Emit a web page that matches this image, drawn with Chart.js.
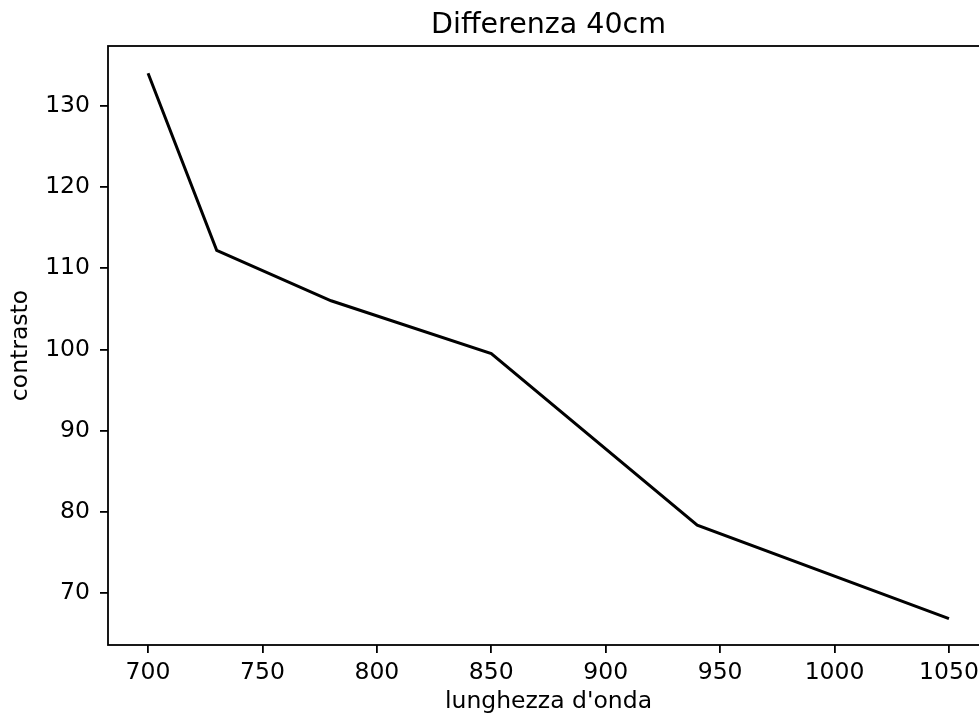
<!DOCTYPE html>
<html>
<head>
<meta charset="utf-8">
<script src="https://cdn.jsdelivr.net/npm/chart.js@4/dist/chart.umd.min.js"></script>
<style>
  html, body { margin: 0; padding: 0; background: #fff; }
  #wrap { width: 979px; height: 718px; overflow: hidden; }
</style>
</head>
<body>
<div id="wrap"><canvas id="c" width="1097" height="718"></canvas></div>
<script>
// wavelength (x) and contrast (y)
const wavelengths = [700, 730, 780, 850, 940, 1050];
const contrast = [134, 112.2, 106, 99.5, 78.4, 66.9];

const titleText = 'Differenza 40cm';
const xLabel = "lunghezza d'onda";
const yLabel = 'contrasto';

const font = 'DejaVu Sans';

// matplotlib-like frame round the plot area
const framePlugin = {
  id: 'frame',
  afterDraw(chart) {
    const { ctx, chartArea: a } = chart;
    ctx.save();
    ctx.strokeStyle = '#000';
    ctx.lineWidth = 1.8;
    ctx.strokeRect(a.left, a.top, a.right - a.left, a.bottom - a.top);
    ctx.restore();
  }
};

new Chart(document.getElementById('c'), {
  type: 'scatter',
  data: {
    datasets: [{
      data: wavelengths.map((x, i) => ({ x: x, y: contrast[i] })),
      showLine: true,
      borderColor: '#000',
      borderWidth: 3,
      pointRadius: 0,
      fill: false
    }]
  },
  options: {
    responsive: false,
    animation: false,
    layout: { padding: 0 },
    plugins: {
      legend: { display: false },
      tooltip: { enabled: false },
      title: {
        display: true,
        text: titleText,
        color: '#000',
        font: { family: font, size: 28.5, weight: 'normal' },
        padding: { top: 8, bottom: 3.8 }
      }
    },
    scales: {
      x: {
        type: 'linear',
        min: 682.5,
        max: 1067.5,
        afterFit(s) { s.height = 73; },
        border: { display: false },
        grid: { drawOnChartArea: false, tickLength: 8, tickColor: '#000', lineWidth: 1.8 },
        ticks: {
          stepSize: 50,
          includeBounds: false,
          color: '#000',
          padding: 6,
          maxRotation: 0,
          font: { family: font, size: 23.5 },
          callback: v => String(v)
        },
        title: {
          display: true,
          text: xLabel,
          color: '#000',
          font: { family: font, size: 23.5 },
          padding: { top: 0, bottom: 2 }
        }
      },
      y: {
        type: 'linear',
        min: 63.65,
        max: 137.35,
        afterFit(s) { s.width = 108; },
        border: { display: false },
        grid: { drawOnChartArea: false, tickLength: 8, tickColor: '#000', lineWidth: 1.8 },
        ticks: {
          stepSize: 10,
          includeBounds: false,
          color: '#000',
          padding: 10,
          font: { family: font, size: 23.5 },
          callback: v => String(v)
        },
        title: {
          display: true,
          text: yLabel,
          color: '#000',
          font: { family: font, size: 23.5 },
          padding: { top: 7, bottom: 0 }
        }
      },
      // empty right-hand axis, only reserves room so the plot is centred like the original
      yRight: {
        type: 'linear',
        position: 'right',
        afterFit(s) { s.width = 108; },
        border: { display: false },
        grid: { display: false },
        ticks: { display: false }
      }
    }
  },
  plugins: [framePlugin]
});
</script>
</body>
</html>
